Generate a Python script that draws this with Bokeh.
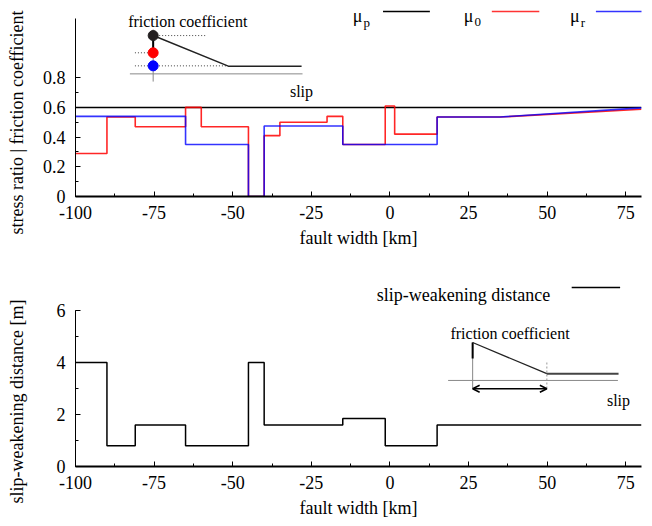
import math
from bokeh.plotting import figure
from bokeh.layouts import column, row
from bokeh.models import Label, Arrow, OpenHead, FixedTicker, Range1d
from bokeh.embed import file_html
from bokeh.resources import INLINE

FONT = "Liberation Serif"

# ---------------- data ----------------
x_ticks = [-100, -75, -50, -25, 0, 25, 50, 75]
x_tick_labels = ["-100", "-75", "-50", "-25", "0", "25", "50", "75"]
x_minor = [-100, -87.5, -75, -62.5, -50, -37.5, -25, -12.5, 0, 12.5, 25, 37.5, 50, 62.5, 75]

y1_ticks = [0, 0.2, 0.4, 0.6, 0.8]
y1_tick_labels = ["0", "0.2", "0.4", "0.6", "0.8"]
y1_minor = [0, 0.1, 0.2, 0.3, 0.4, 0.5, 0.6, 0.7, 0.8]

y2_ticks = [0, 2, 4, 6]
y2_tick_labels = ["0", "2", "4", "6"]
y2_minor = [0, 1, 2, 3, 4, 5, 6]

# peak friction (mu_p)
mu_p_x = [-100, 80]
mu_p_y = [0.6, 0.6]

# initial stress ratio (mu_0): step edges / values, then linear ramp to end
mu0_edges = [-100, -90, -81, -65, -60, -45, -40, -35, -20, -15, -1.5, 1.5, 15, 35]
mu0_vals = [0.29, 0.535, 0.47, 0.60, 0.47, 0.0, 0.41, 0.50, 0.54, 0.35, 0.61, 0.42, 0.535]
mu0_end_x = 80
mu0_end_y = 0.588

# residual friction (mu_r)
mur_edges = [-100, -65, -45, -40, -15, 15, 35]
mur_vals = [0.54, 0.35, 0.0, 0.475, 0.35, 0.535]
mur_end_x = 80
mur_end_y = 0.597

# slip-weakening distance
dc_edges = [-100, -90, -81, -65, -45, -40, -15, -1.5, 15, 80]
dc_vals = [4, 0.8, 1.6, 0.8, 4, 1.6, 1.85, 0.8, 1.6]

y_label_top = "stress ratio | friction coefficient"
y_label_bottom = "slip-weakening distance [m]"


def step_xy(edges, vals):
    xs, ys = [], []
    for i, v in enumerate(vals):
        xs += [edges[i], edges[i + 1]]
        ys += [v, v]
    return xs, ys


def style(p, yt, ytl, ym, ybounds):
    p.outline_line_color = None
    p.grid.visible = False
    p.background_fill_color = "white"
    p.border_fill_color = "white"
    p.xaxis.ticker = FixedTicker(ticks=x_ticks, minor_ticks=x_minor)
    p.xaxis.major_label_overrides = dict(zip(x_ticks, x_tick_labels))
    p.yaxis.ticker = FixedTicker(ticks=yt, minor_ticks=ym)
    p.yaxis.major_label_overrides = dict(zip(yt, ytl))
    p.yaxis.bounds = ybounds
    for ax in (p.xaxis[0], p.yaxis[0]):
        ax.major_tick_in = 5
        ax.major_tick_out = 0
        ax.minor_tick_in = 3
        ax.minor_tick_out = 0
        ax.major_tick_line_color = "black"
        ax.minor_tick_line_color = "black"
        ax.axis_line_color = "black"
        ax.major_label_text_font = FONT
        ax.major_label_text_font_size = "18px"
        ax.major_label_text_color = "black"
        ax.axis_label_text_font = FONT
        ax.axis_label_text_font_size = "18px"
        ax.axis_label_text_font_style = "normal"
        ax.axis_label_text_color = "black"
    p.xaxis.axis_line_width = 2
    p.yaxis.axis_line_width = 1
    p.xaxis.major_label_standoff = 9
    p.yaxis.major_label_standoff = 10
    p.xaxis.axis_label = "fault width [km]"
    p.xaxis.axis_label_standoff = 6


def text(p, x, y, s, size="16px", align="left", baseline="alphabetic", angle=0):
    p.add_layout(Label(x=x, y=y, text=s, text_font=FONT, text_font_size=size,
                       text_align=align, text_baseline=baseline, text_color="black",
                       angle=angle))


def hline(p, x0, x1, y, color="black", width=1.5, dash="solid"):
    p.add_layout(Arrow(x_start=x0, y_start=y, x_end=x1, y_end=y, start=None, end=None,
                       line_color=color, line_width=width, line_dash=dash))


STRIP = 30

# ---------------- label strip (y-axis titles) ----------------
strip = figure(width=STRIP, height=526, x_range=Range1d(0, STRIP), y_range=Range1d(526, 0),
               output_backend="svg", toolbar_location=None,
               x_axis_type=None, y_axis_type=None,
               min_border=0, min_border_left=0, min_border_right=0,
               min_border_top=0, min_border_bottom=0)
strip.outline_line_color = None
strip.background_fill_color = "white"
strip.border_fill_color = "white"
text(strip, 16.5, 122, y_label_top, size="18px", align="center", baseline="middle",
     angle=math.pi / 2)
text(strip, 16.5, 401, y_label_bottom, size="18px", align="center", baseline="middle",
     angle=math.pi / 2)

# ---------------- top figure ----------------
p1 = figure(width=652 - STRIP, height=260, x_range=Range1d(-100, 80), y_range=Range1d(0, 1.3),
            output_backend="svg", toolbar_location=None,
            min_border_left=75 - STRIP, min_border_right=11, min_border_top=3, min_border_bottom=64)
style(p1, y1_ticks, y1_tick_labels, y1_minor, (0, 1.2))

p1.line(mu_p_x, mu_p_y, line_color="black", line_width=1.5)
xs0, ys0 = step_xy(mu0_edges, mu0_vals)
xs0.append(mu0_end_x); ys0.append(mu0_end_y)
p1.line(xs0, ys0, line_color="#ff0000", line_width=1.6, line_alpha=0.85)
xsr, ysr = step_xy(mur_edges, mur_vals)
xsr.append(mur_end_x); ysr.append(mur_end_y)
p1.line(xsr, ysr, line_color="#0000ff", line_width=1.6, line_alpha=0.8)

# legend
text(p1, -11.8, 1.215, "\u03bc", size="18px")
text(p1, -8.4, 1.175, "p", size="13px")
hline(p1, -2.2, 12.7, 1.246)
text(p1, 23.5, 1.215, "\u03bc", size="18px")
text(p1, 26.9, 1.175, "0", size="13px")
hline(p1, 32.4, 47.5, 1.246, color="#ff3333")
text(p1, 57.3, 1.215, "\u03bc", size="18px")
text(p1, 60.7, 1.175, "r", size="13px")
hline(p1, 65.5, 80.6, 1.246, color="#3333ff")

# inset schematic (top)
p1.line([-82.7, -27.8], [0.826, 0.826], line_color="#888888", line_width=1)
p1.line([-75.3, -75.3], [1.125, 0.774], line_color="#888888", line_width=1)
p1.line([-75.3, -75.3], [1.084, 0.968], line_color="black", line_width=2)
p1.line([-75.3, -58.3], [1.084, 1.084], line_color="#444444", line_width=1, line_dash="1 2")
p1.line([-81.1, -75.3], [0.968, 0.968], line_color="#444444", line_width=1, line_dash="1 2")
p1.line([-81.1, -51.5], [0.880, 0.880], line_color="#444444", line_width=1, line_dash="1 2")
p1.line([-75.3, -51.4, -28.1], [1.084, 0.878, 0.878], line_color="#222222", line_width=1.5)
p1.scatter([-75.3], [1.084], size=10, color="#231f20")
p1.scatter([-75.3], [0.968], size=10, color="#ff0000")
p1.scatter([-75.3], [0.880], size=10, color="#0000ff")
text(p1, -64.3, 1.18, "friction coefficient", size="16px", align="center")
text(p1, -31.8, 0.705, "slip", size="16px")

# ---------------- bottom figure ----------------
p2 = figure(width=652 - STRIP, height=266, x_range=Range1d(-100, 80), y_range=Range1d(0, 188 / 26),
            output_backend="svg", toolbar_location=None,
            min_border_left=75 - STRIP, min_border_right=11, min_border_top=18, min_border_bottom=60)
style(p2, y2_ticks, y2_tick_labels, y2_minor, (0, 6))

xsd, ysd = step_xy(dc_edges, dc_vals)
p2.line(xsd, ysd, line_color="black", line_width=1.5)

# legend
text(p2, 51.0, 6.6, "slip-weakening distance", size="18px", align="right")
hline(p2, 57.8, 73.2, 6.88)

# inset schematic (bottom)
p2.line([18.5, 72.5], [3.31, 3.31], line_color="#888888", line_width=1)
p2.line([26.3, 26.3], [4.77, 3.0], line_color="#888888", line_width=1)
p2.line([26.3, 26.3], [4.77, 4.15], line_color="black", line_width=2)
p2.line([49.9, 49.9], [4.0, 3.0], line_color="#999999", line_width=1, line_dash="2 2")
p2.line([26.3, 49.9], [4.77, 3.57], line_color="#222222", line_width=1.3)
p2.line([49.9, 72.7], [3.57, 3.57], line_color="#444444", line_width=2)
p2.add_layout(Arrow(x_start=26.3, y_start=2.99, x_end=49.9, y_end=2.99,
                    start=OpenHead(size=7, line_width=1.5), end=OpenHead(size=7, line_width=1.5),
                    line_color="black", line_width=1.5))
text(p2, 38.2, 5.1, "friction coefficient", size="16px", align="center")
text(p2, 69.0, 2.55, "slip", size="16px")

layout = row(strip, column(p1, p2))
open("out.html", "w").write(file_html(layout, INLINE))
